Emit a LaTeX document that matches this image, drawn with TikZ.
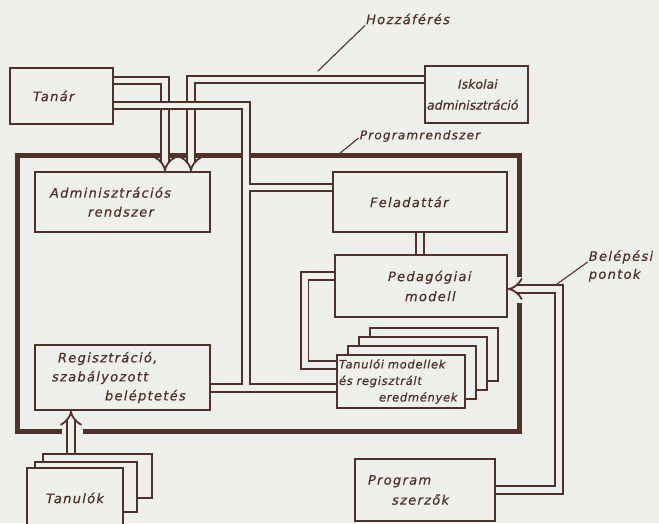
\documentclass[tikz,border=0pt]{standalone}
\usepackage{fontspec}
\setmainfont{DejaVu Sans}[LetterSpace=10, FakeBold=0.6]
\usetikzlibrary{arrows.meta}
\definecolor{ink}{RGB}{80,50,42}
\definecolor{paper}{RGB}{238,240,235}
\pgfdeclarelayer{back}
\pgfdeclarelayer{pipes}
\pgfsetlayers{back,pipes,main}
\tikzset{
    pipe/.style={draw=ink, line width=1.8pt, double=paper, double distance=5.8pt},
    leader/.style={draw=ink, line width=1.1pt},
    frame/.style={draw=ink, line width=5pt}
}

\begin{document}
\begin{tikzpicture}[x=1pt, y=-1pt, font=\itshape\fontsize{13}{19}\selectfont, text=ink]
        \useasboundingbox (0,0) rectangle (659,523);
        \begin{pgfonlayer}{back}
            \fill[paper] (0,0) rectangle (659,523);
            \draw[frame] (62,431) -- (17,431) -- (17,155) -- (519,155) -- (519,277);
            \draw[frame] (519,303) -- (519,431) -- (83,431);
        \end{pgfonlayer}
        \begin{scope}[every node/.style={rectangle, draw=ink, line width=1.7pt, inner sep=0pt, align=left}]
            \node (tanar) [minimum width=103pt, minimum height=56pt, text width=57pt] at (61.5, 96) {Tanár};
            \node (iskola) [minimum width=103pt, minimum height=57pt, text width=99pt, font={\itshape\fontsize{12.5}{21}\selectfont\addfontfeatures{LetterSpace=0}}] at (476.5, 94.5) {\hspace*{31pt}Iskolai\\adminisztráció};
            \node (admin) [minimum width=175pt, minimum height=60pt, text width=145pt] at (122.5, 202) {Adminisztrációs\\\hspace*{38pt}rendszer};
            \node (feladat) [minimum width=174pt, minimum height=60pt, text width=100pt] at (420, 202) {Feladattár};
            \node (pedag) [minimum width=172pt, minimum height=62pt, text width=110pt, font={\itshape\fontsize{13}{20}\selectfont}] at (421, 286) {\hspace*{22pt}Pedagógiai\\\hspace*{39pt}modell};
            \foreach \i in {3,2,1}
                \node (tmodell\i) [fill=paper, minimum width=128pt, minimum height=53pt] at (401+11*\i, 381.5-9*\i) {};
            \node (tmodell) [fill=paper, minimum width=128pt, minimum height=53pt, text width=124pt, font={\itshape\fontsize{11.5}{16.5}\selectfont\addfontfeatures{LetterSpace=6}}] at (401, 381.5) {Tanulói modellek\\és regisztrált\\\hspace*{40pt}eredmények};
            \node (regiszt) [minimum width=175pt, minimum height=65pt, text width=141pt] at (122.5, 377.5) {\hspace*{6pt}Regisztráció,\\szabályozott\\\hspace*{53pt}beléptetés};
            \node (tanulo3) [fill=paper, minimum width=109pt, minimum height=44pt] at (97.5, 476) {};
            \node (tanulo2) [fill=paper, minimum width=102pt, minimum height=50pt] at (86, 487) {};
            \node (tanulo) [fill=paper, minimum width=96pt, minimum height=60pt, align=center] at (75, 498) {Tanulók};
            \node (szerzo) [minimum width=140pt, minimum height=62pt, text width=114pt, font={\itshape\fontsize{13}{20}\selectfont}] at (425, 490) {Program\\\hspace*{24pt}szerzők};
        \end{scope}
        \node (hozza) [inner sep=1pt] at (408, 19) {Hozzáférés};
        \node (progr) [inner sep=1pt, font=\itshape\fontsize{12}{14}\selectfont] at (420, 136) {Programrendszer};
        \node (belep) [inner sep=1pt, align=left, font=\itshape\fontsize{13}{18}\selectfont] at (621, 266) {Belépési\\pontok};
        \coordinate (hozzavege) at (318, 71);
        \coordinate (progrvege) at (339, 154);
        \coordinate (belepvege) at (557, 284);
        \coordinate (csomo) at (246, 388);
        \coordinate (fagaz) at ([yshift=14.5pt]feladat.west);
        \coordinate (tbe) at ([xshift=-51.5pt]regiszt.south);
        \draw[leader] (hozza.south west) -- (hozzavege);
        \draw[leader] ([yshift=-2pt]progr.west) -- (progrvege);
        \draw[leader] ([yshift=4pt]belep.west) -- (belepvege);
        \begin{pgfonlayer}{pipes}
            \draw[pipe, -{Implies[length=8pt, width=14pt]}] ([yshift=15.5pt]tanar.east) -| ([xshift=42.5pt]admin.north);
            \draw[pipe, -{Implies[length=8pt, width=14pt]}] ([yshift=15pt]iskola.west) -| ([xshift=68.5pt]admin.north);
            \draw[pipe] ([yshift=-9.5pt]tanar.east) -| (csomo)
                ([yshift=-10.5pt]regiszt.east) -- ([yshift=-6.5pt]tmodell.west)
                (fagaz -| csomo) -- (fagaz);
            \draw[pipe] (feladat.south) -- (feladat.south |- pedag.north);
            \draw[pipe] ([yshift=10pt]pedag.west) -- ++(-29.5,0) |- ([yshift=16.5pt]tmodell.west);
            \draw[pipe, -{Implies[length=18pt, width=26pt]}] (szerzo.east) -- ++(63,0) |- ([yshift=-3pt]pedag.east);
            \draw[pipe, -{Implies[length=9pt, width=17pt]}] (tbe |- tanulo3.north) -- (tbe);
        \end{pgfonlayer}
    \end{tikzpicture}
\end{document}
